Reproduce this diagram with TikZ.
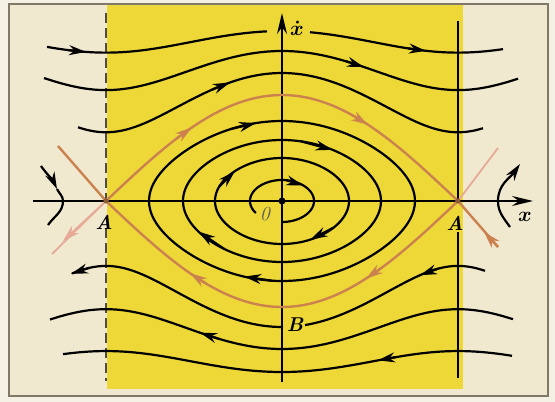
\documentclass[tikz,border=0pt]{standalone}
\usepackage{amsmath}
\usepackage{tikz}
\usetikzlibrary{arrows.meta}

\definecolor{paper}{RGB}{244,240,226}
\definecolor{cream}{RGB}{240,233,208}
\definecolor{yel}{RGB}{237,216,56}
\definecolor{sepc}{RGB}{203,130,78}
\definecolor{sepfaint}{RGB}{230,170,150}
\definecolor{framec}{RGB}{128,120,104}

% 旋转轨线 (上/下) 与闭合轨线
\newcommand\rotcurve[5]{\draw[orbit] plot[domain=#4:#5,samples=50,smooth] (\x,{#1*rot(#2,#3,\x)});}
\newcommand\rotarrow[5]{\draw[orbit,tip] (#4,{#1*rot(#2,#3,#4)}) -- (#5,{#1*rot(#2,#3,#5)});}
\newcommand\loopcurve[5]{\draw[orbit] plot[domain=#4:#5,samples=120,smooth] ({lx(#1,#2,\x)},{#3*cos(\x)});}
\newcommand\looparrow[5]{\draw[orbit,tip] ({lx(#1,#2,#4)},{#3*cos(#4)}) -- ({lx(#1,#2,#5)},{#3*cos(#5)});}

\begin{document}
\begin{tikzpicture}[x=1pt,y=1pt,
  orbit/.style={line width=2.2pt,black},
  sepline/.style={line width=2.4pt,sepc},
  faintline/.style={line width=1.8pt,sepfaint},
  dashln/.style={line width=1.6pt,gray!60!black,dash pattern=on 10pt off 5pt},
  axisline/.style={line width=1.8pt,-{Stealth[length=21pt,width=10pt]}},
  tip/.style={-{Stealth[length=17pt,width=10pt]}},
  lbl/.style={font=\fontsize{20}{20}\selectfont\bfseries\itshape},
  declare function={
    rot(\v,\a,\t)=100*sqrt(\v*\v-\a*\a*sin(\t/176*90)^2);
    sepv(\t)=106*cos(\t/176*90);
    lx(\k,\w,\p)=\w*asin(\k*sin(\p))/asin(\k);
  }]

  % 背景与边框
  \fill[paper] (-282,-201) rectangle (273,201);
  \useasboundingbox (-282,-201) rectangle (273,201);
  \fill[cream] (-273,-195) rectangle (266,197);
  \fill[yel] (-175,-188) rectangle (181,196);
  \draw[framec,line width=2pt] (-273,-195) rectangle (266,197);

  % 鞍点与竖线
  \coordinate (Aleft) at (-176,0);
  \coordinate (Aright) at (176,0);
  \draw[dashln] (-176,188) -- (Aleft);
  \draw[dashln] (-176,-27) -- (-176,-180);
  \draw[line width=1.8pt] (176,180) -- (Aright);
  \draw[line width=1.8pt] (176,-31) -- (176,-177);

  % 坐标轴
  \draw[axisline] (-249,0) -- (251,0);
  \draw[axisline] (0,-181) -- (0,188);

  % 分界线 (橙色)
  \draw[sepline] plot[domain=-176:176,samples=60,smooth] (\x,{sepv(\x)});
  \draw[sepline] plot[domain=-176:176,samples=60,smooth] (\x,{-sepv(\x)});
  \draw[sepline,tip] (-106,{sepv(-106)}) -- (-90,{sepv(-90)});
  \draw[sepline,tip] (70,{sepv(70)}) -- (86,{sepv(86)});
  \draw[sepline,tip] (-76,{-sepv(-76)}) -- (-92,{-sepv(-92)});
  \draw[sepline,tip] (100,{-sepv(100)}) -- (84,{-sepv(84)});

  \coordinate (ulA) at (-224,55);
  \coordinate (llA) at (-230,-53);
  \coordinate (llAtip) at (-219,-40);
  \coordinate (urA) at (216,53);
  \coordinate (lrA) at (216,-46);
  \coordinate (lrAtip) at (202,-31);
  \draw[sepline] (ulA) -- (Aleft);
  \draw[faintline] (Aleft) -- (llA);
  \draw[faintline,tip] (Aleft) -- (llAtip);
  \draw[faintline] (Aright) -- (urA);
  \draw[sepline] (Aright) -- (lrA);
  \draw[sepline,tip] (lrA) -- (lrAtip);
  \fill[sepc!70!black] (Aleft) circle (2.5);
  \fill[sepc!70!black] (Aright) circle (2.5);

  % 上方旋转轨线
  \rotcurve{1}{1.70}{0.83}{-235}{-15}
  \rotcurve{1}{1.70}{0.83}{28}{221}
  \rotarrow{1}{1.70}{0.83}{-214}{-196}
  \rotarrow{1}{1.70}{0.83}{126}{144}
  \rotcurve{1}{1.50}{1.01}{-238}{236}
  \rotarrow{1}{1.50}{1.01}{64}{82}
  \rotcurve{1}{1.28}{1.08}{-204}{201}
  \rotarrow{1}{1.28}{1.08}{-70}{-52}

  % 下方旋转轨线
  \rotcurve{-1}{1.26}{1.08}{-210}{1}
  \rotcurve{-1}{1.26}{1.08}{23}{203}
  \rotarrow{-1}{1.26}{1.08}{-193}{-211}
  \rotarrow{-1}{1.26}{1.08}{156}{138}
  \rotcurve{-1}{1.48}{1.01}{-232}{231}
  \rotarrow{-1}{1.48}{1.01}{-64}{-82}
  \rotcurve{-1}{1.71}{0.82}{-219}{230}
  \rotarrow{-1}{1.71}{0.82}{114}{96}

  % 闭合轨线
  \loopcurve{0.3}{32}{21}{235}{540}
  \looparrow{0.3}{32}{21}{8}{42}
  \loopcurve{0.5}{67}{43}{0}{360}
  \looparrow{0.5}{67}{43}{290}{314}
  \looparrow{0.5}{67}{43}{128}{154}
  \loopcurve{0.65}{99}{61}{0}{360}
  \looparrow{0.65}{99}{61}{12}{33}
  \looparrow{0.65}{99}{61}{218}{240}
  \loopcurve{0.8}{133}{80}{0}{360}
  \looparrow{0.8}{133}{80}{334}{347}
  \looparrow{0.8}{133}{80}{185}{199}
  \fill (0,0) circle (3.5);

  % 鞍点附近的轨线
  \coordinate (larc1) at (-241,35);
  \coordinate (larc2) at (-225,12);
  \coordinate (larc3) at (-219,0);
  \coordinate (larc4) at (-234,-24);
  \draw[orbit,tip] (larc1) to[out=-55,in=115] (larc2);
  \draw[orbit] (larc2) to[out=-65,in=90] (larc3) to[out=-90,in=55] (larc4);
  \coordinate (rarc1) at (228,-26);
  \coordinate (rarc2) at (216,0);
  \coordinate (rarc3) at (238,37);
  \draw[orbit,tip] (rarc1) to[out=125,in=-90] (rarc2) to[out=90,in=-125] (rarc3);

  % 标注
  \node[lbl] (lblxd) at (15,173) {$\boldsymbol{\dot x}$};
  \node[lbl] (lblx) at (243,-16) {$\boldsymbol{x}$};
  \node[lbl,font=\fontsize{20}{20}\selectfont\itshape,gray!70!black] (lblO) at (-17,-13) {0};
  \node[lbl] (lblAl) at (-178,-21) {A};
  \node[lbl] (lblAr) at (173,-22) {A};
  \node[lbl] (lblB) at (13,-124) {B};
\end{tikzpicture}
\end{document}
